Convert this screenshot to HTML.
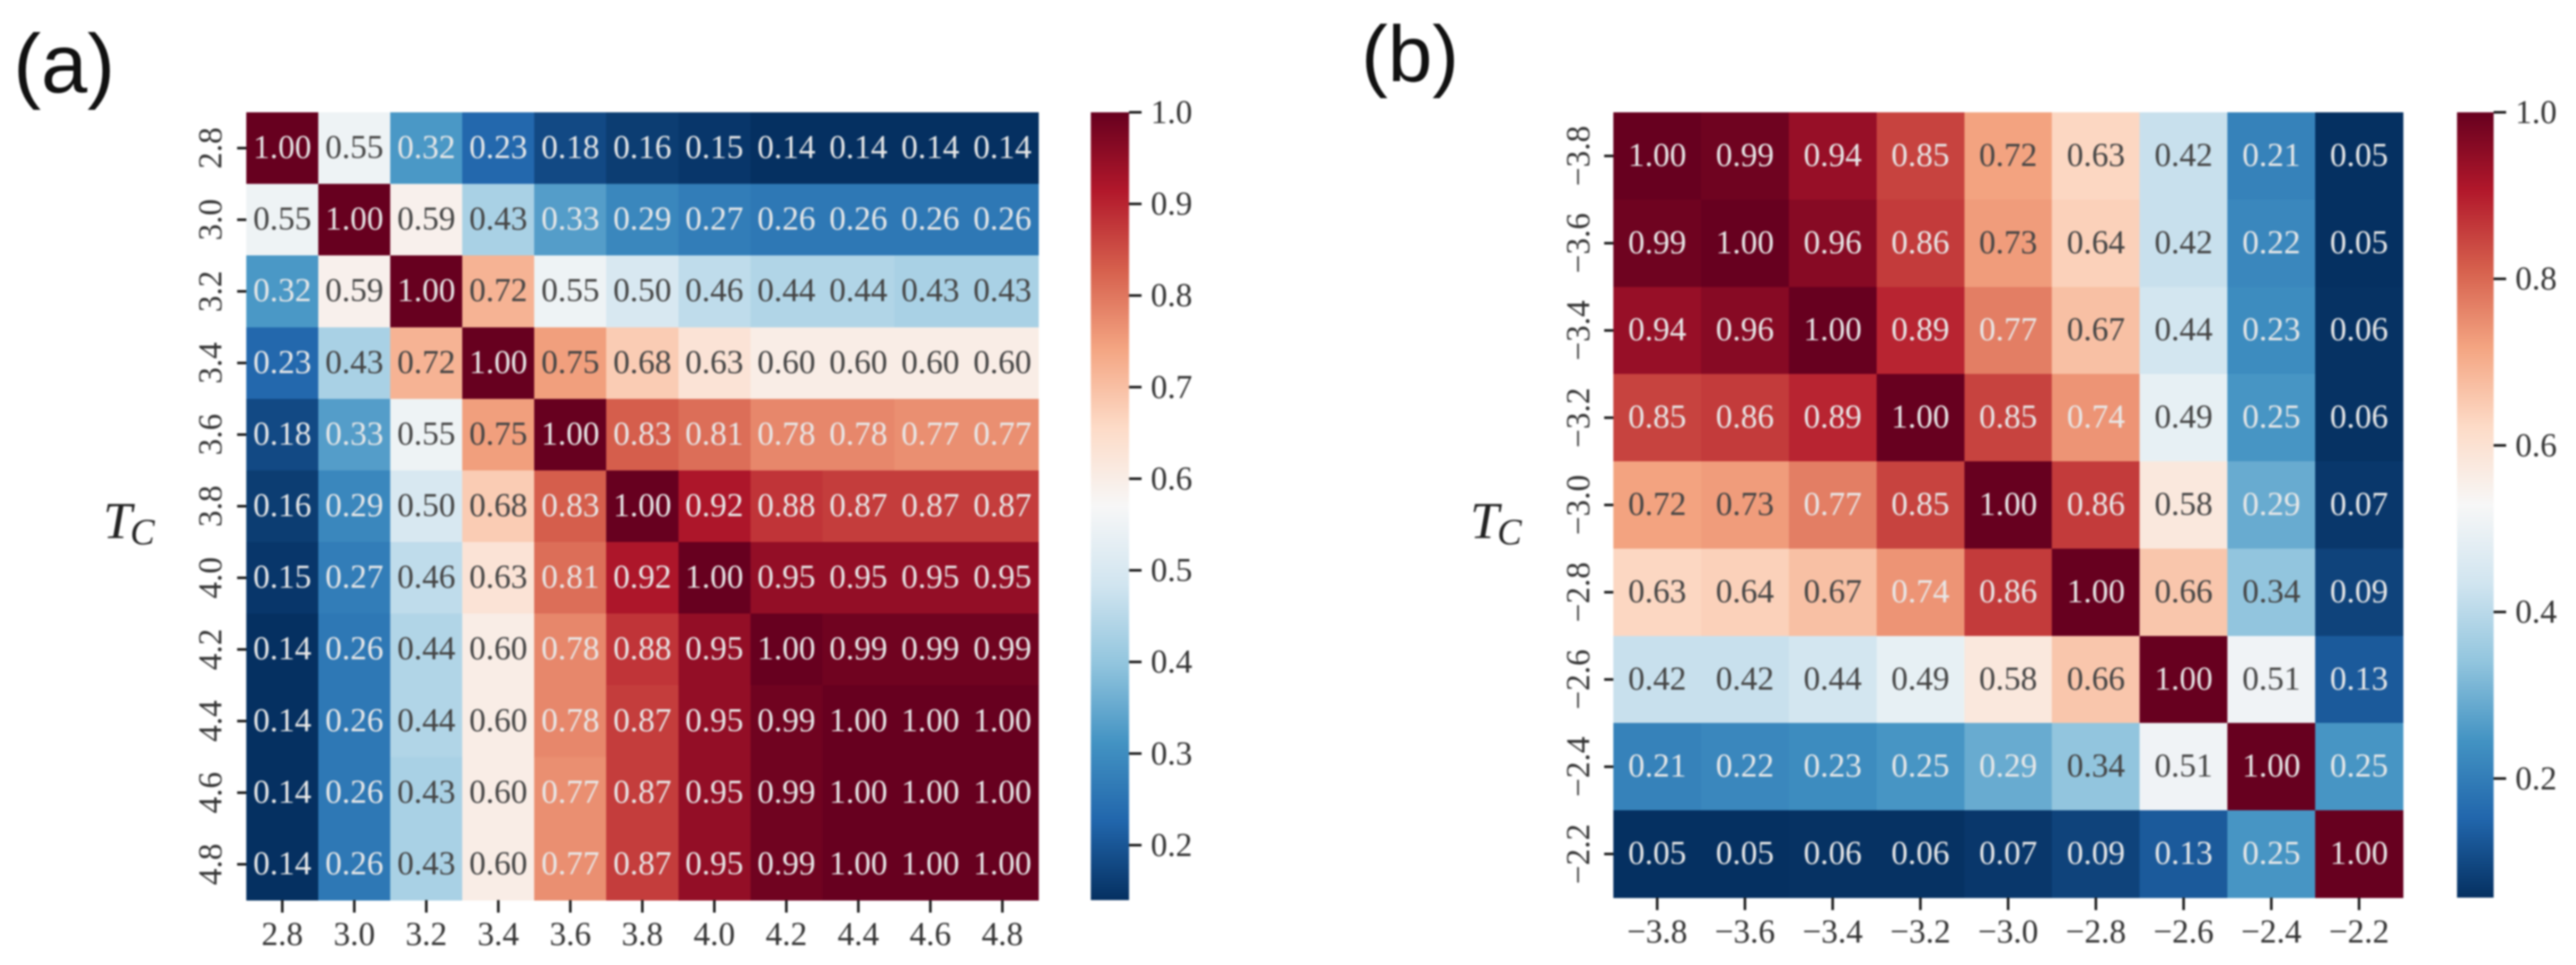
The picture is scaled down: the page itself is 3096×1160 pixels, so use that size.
<!DOCTYPE html>
<html lang="en">
<head>
<meta charset="utf-8">
<title>Correlation heatmaps</title>
<style>
html,body{margin:0;padding:0;background:#fff;width:3096px;height:1160px;overflow:hidden}
#figure{display:block;filter:blur(1px)}
text{font-family:"Liberation Serif",serif;fill:#333}
.panel-letter{font-family:"Liberation Sans",sans-serif;fill:#111}
.tc{font-style:italic;fill:#222}
</style>
</head>
<body>
<svg id="figure" xmlns="http://www.w3.org/2000/svg" width="3096" height="1160" viewBox="0 0 3096 1160"></svg>
<script>
const categoriesA = ["2.8","3.0","3.2","3.4","3.6","3.8","4.0","4.2","4.4","4.6","4.8"];
const valuesA = [
  [1.00,0.55,0.32,0.23,0.18,0.16,0.15,0.14,0.14,0.14,0.14],
  [0.55,1.00,0.59,0.43,0.33,0.29,0.27,0.26,0.26,0.26,0.26],
  [0.32,0.59,1.00,0.72,0.55,0.50,0.46,0.44,0.44,0.43,0.43],
  [0.23,0.43,0.72,1.00,0.75,0.68,0.63,0.60,0.60,0.60,0.60],
  [0.18,0.33,0.55,0.75,1.00,0.83,0.81,0.78,0.78,0.77,0.77],
  [0.16,0.29,0.50,0.68,0.83,1.00,0.92,0.88,0.87,0.87,0.87],
  [0.15,0.27,0.46,0.63,0.81,0.92,1.00,0.95,0.95,0.95,0.95],
  [0.14,0.26,0.44,0.60,0.78,0.88,0.95,1.00,0.99,0.99,0.99],
  [0.14,0.26,0.44,0.60,0.78,0.87,0.95,0.99,1.00,1.00,1.00],
  [0.14,0.26,0.43,0.60,0.77,0.87,0.95,0.99,1.00,1.00,1.00],
  [0.14,0.26,0.43,0.60,0.77,0.87,0.95,0.99,1.00,1.00,1.00]
];
const colorTicksA = [1.0,0.9,0.8,0.7,0.6,0.5,0.4,0.3,0.2];
const domainA = [0.14,1.0];

const categoriesB = ["\u22123.8","\u22123.6","\u22123.4","\u22123.2","\u22123.0","\u22122.8","\u22122.6","\u22122.4","\u22122.2"];
const valuesB = [
  [1.00,0.99,0.94,0.85,0.72,0.63,0.42,0.21,0.05],
  [0.99,1.00,0.96,0.86,0.73,0.64,0.42,0.22,0.05],
  [0.94,0.96,1.00,0.89,0.77,0.67,0.44,0.23,0.06],
  [0.85,0.86,0.89,1.00,0.85,0.74,0.49,0.25,0.06],
  [0.72,0.73,0.77,0.85,1.00,0.86,0.58,0.29,0.07],
  [0.63,0.64,0.67,0.74,0.86,1.00,0.66,0.34,0.09],
  [0.42,0.42,0.44,0.49,0.58,0.66,1.00,0.51,0.13],
  [0.21,0.22,0.23,0.25,0.29,0.34,0.51,1.00,0.25],
  [0.05,0.05,0.06,0.06,0.07,0.09,0.13,0.25,1.00]
];
const colorTicksB = [1.0,0.8,0.6,0.4,0.2];
const domainB = [0.057,1.0];

const cmapStops = ["#053061","#2166ac","#4393c3","#92c5de","#d1e5f0","#f7f7f7","#fddbc7","#f4a582","#d6604d","#b2182b","#67001f"];

const svg = document.getElementById('figure');
const NS = 'http://www.w3.org/2000/svg';

function make(tag, attrs, parent, content) {
  const el = document.createElementNS(NS, tag);
  for (const k in attrs) el.setAttribute(k, attrs[k]);
  if (content !== undefined) el.textContent = content;
  parent.appendChild(el);
  return el;
}
function hexRgb(h) {
  return [1,3,5].map(function (i) { return parseInt(h.substr(i,2),16); });
}
function cmap(t) {
  const c = Math.max(0, Math.min(1, t)) * (cmapStops.length - 1);
  const i = Math.min(Math.floor(c), cmapStops.length - 2);
  const f = c - i;
  const a = hexRgb(cmapStops[i]);
  const b = hexRgb(cmapStops[i + 1]);
  return a.map(function (v, n) { return Math.round(v + (b[n] - v) * f); });
}
function luminance(rgb) {
  const l = rgb.map(function (v) {
    const s = v / 255;
    return s <= 0.03928 ? s / 12.92 : Math.pow((s + 0.055) / 1.055, 2.4);
  });
  return 0.2126 * l[0] + 0.7152 * l[1] + 0.0722 * l[2];
}

const defs = make('defs', {}, svg);
const grad = make('linearGradient', {id:'rdbu', x1:0, y1:1, x2:0, y2:0}, defs);
cmapStops.forEach(function (c, i) {
  make('stop', {offset: i / (cmapStops.length - 1), 'stop-color': c}, grad);
});

function drawPanel(cfg) {
  const g = make('g', {}, svg);
  
  

  const n = cfg.categories.length;
  const cw = (cfg.right - cfg.left) / n;
  const ch = (cfg.bottom - cfg.top) / n;
  const xScale = function (i) { return cfg.left + i * cw; };
  const yScale = function (i) { return cfg.top + i * ch; };
  const norm = function (v) { return (v - cfg.domain[0]) / (cfg.domain[1] - cfg.domain[0]); };
  const barY = function (v) { return cfg.bottom - norm(v) * (cfg.bottom - cfg.top); };

  cfg.values.forEach(function (row, r) {
    row.forEach(function (v, c) {
      const rgb = cmap(norm(v));
      const cell = make('rect', {
        x: xScale(c), y: yScale(r), width: cw + 0.5, height: ch + 0.5,
        fill: 'rgb(' + rgb.join(',') + ')', 'shape-rendering': 'crispEdges'
      }, g);
      
      
    });
  });
  cfg.values.forEach(function (row, r) {
    row.forEach(function (v, c) {
      const rgb = cmap(norm(v));
      const t = make('text', {
        x: xScale(c) + cw / 2, y: yScale(r) + ch / 2 + 12, 'font-size': 40, 'text-anchor': 'middle',
        style: 'fill:' + (luminance(rgb) > 0.408 ? '#444' : '#e8e8e8')
      }, g, v.toFixed(2));
      
      
    });
  });

  cfg.categories.forEach(function (lab, i) {
    const xc = xScale(i) + cw / 2;
    const yc = yScale(i) + ch / 2;
    const xt = make('line', {x1: xc, x2: xc, y1: cfg.bottom, y2: cfg.bottom + 15, stroke: '#111', 'stroke-width': 3}, g);
    
    
    const xl = make('text', {x: xc, y: cfg.bottom + 54, 'font-size': 40, 'text-anchor': 'middle'}, g, lab);
    
    
    const yt = make('line', {x1: cfg.left - 11, x2: cfg.left, y1: yc, y2: yc, stroke: '#111', 'stroke-width': 3}, g);
    
    
    const yl = make('text', {
      x: 0, y: 0, 'font-size': 40, 'text-anchor': 'middle',
      transform: 'translate(' + (cfg.yLabelX + 13) + ' ' + yc + ') rotate(-90)'
    }, g, lab);
    
    
  });

  const bar = make('rect', {
    x: cfg.barLeft, y: cfg.top, width: cfg.barRight - cfg.barLeft, height: cfg.bottom - cfg.top,
    fill: 'url(#rdbu)'
  }, g);
  
  
  cfg.colorTicks.forEach(function (v) {
    const y = barY(v);
    const tk = make('line', {x1: cfg.barRight, x2: cfg.barRight + 15, y1: y, y2: y, stroke: '#111', 'stroke-width': 3}, g);
    
    
    const tl = make('text', {x: cfg.barRight + 26, y: y + 13, 'font-size': 40}, g, v.toFixed(1));
    
    
  });

  const tc = make('text', {x: cfg.tcX, y: 647, 'font-size': 62}, g);
  tc.setAttribute('class', 'tc');
  
  
  make('tspan', {}, tc, 'T');
  make('tspan', {'font-size': 44, dy: 7, dx: -2}, tc, 'C');

  const letter = make('text', {x: cfg.letterX, y: cfg.letterY, 'font-size': cfg.letterSize}, g, cfg.letter);
  letter.setAttribute('class', 'panel-letter');
  
  
}

drawPanel({
  name: 'heatmap-panel-a', categories: categoriesA, values: valuesA, domain: domainA, colorTicks: colorTicksA,
  left: 296, right: 1248, top: 135, bottom: 1082, barLeft: 1311, barRight: 1357,
  yLabelX: 253, tcX: 124, letter: '(a)', letterX: 16, letterY: 111, letterSize: 100
});
drawPanel({
  name: 'heatmap-panel-b', categories: categoriesB, values: valuesB, domain: domainB, colorTicks: colorTicksB,
  left: 1939, right: 2888, top: 135, bottom: 1079, barLeft: 2953, barRight: 2997,
  yLabelX: 1897, tcX: 1767, letter: '(b)', letterX: 1636, letterY: 98, letterSize: 96
});
</script>
</body>
</html>
